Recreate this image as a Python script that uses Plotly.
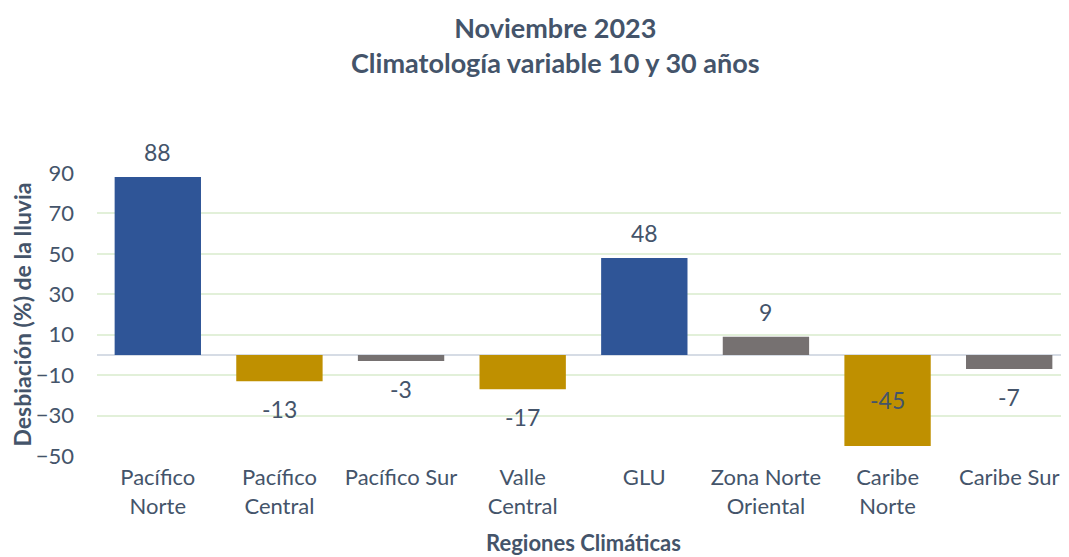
import plotly.graph_objects as go

regions = ["Pacífico<br>Norte", "Pacífico<br>Central", "Pacífico Sur", "Valle<br>Central",
           "GLU", "Zona Norte<br>Oriental", "Caribe<br>Norte", "Caribe Sur"]
values = [88, -13, -3, -17, 48, 9, -45, -7]
bar_colors = ["#2F5597", "#BF9000", "#767171", "#BF9000", "#2F5597", "#767171", "#BF9000", "#767171"]
y_ticks = [-50, -30, -10, 10, 30, 50, 70, 90]

text_col = "#44546A"
font_fam = "Lato, 'Open Sans', sans-serif"

fig = go.Figure(go.Bar(
    x=regions, y=values,
    marker=dict(color=bar_colors, line=dict(width=0)),
    width=0.71,
    hoverinfo="x+y",
))

# data labels derived from values
for r, v in zip(regions, values):
    if v < -40:
        fig.add_annotation(x=r, y=v / 2, text=str(v), showarrow=False,
                           font=dict(size=23, color=text_col, family=font_fam))
    elif v >= 0:
        fig.add_annotation(x=r, y=v, text=str(v), showarrow=False, yshift=25,
                           font=dict(size=23, color=text_col, family=font_fam))
    else:
        fig.add_annotation(x=r, y=v, text=str(v), showarrow=False, yshift=-28,
                           font=dict(size=23, color=text_col, family=font_fam))

fig.update_layout(
    width=1069, height=557,
    paper_bgcolor="white", plot_bgcolor="white",
    margin=dict(l=89, r=7, t=165, b=109, autoexpand=False),
    title=dict(
        text="<b>Noviembre 2023<br>Climatología variable 10 y 30 años</b>",
        x=0.512, xanchor="center", y=0.946, yanchor="top",
        font=dict(size=27, color=text_col, family=font_fam),
        automargin=False,
    ),
    font=dict(family=font_fam, color=text_col),
    showlegend=False,
)
fig.update_yaxes(
    range=[-50, 90], tickvals=y_ticks, automargin=False,
    showgrid=True, gridcolor="#E2F0D9", gridwidth=1.5,
    zeroline=True, zerolinecolor="#D6DCE5", zerolinewidth=2,
    tickfont=dict(size=22, color=text_col),
    ticklabelstandoff=22,
    title=dict(text="<b>Desbiación (%) de la lluvia</b>", font=dict(size=23, color=text_col), standoff=6),
)
fig.update_xaxes(
    showgrid=False, showline=False, automargin=False,
    tickfont=dict(size=22, color=text_col),
    ticklabelstandoff=6,
    title=dict(text="<b>Regiones Climáticas</b>", font=dict(size=22, color=text_col), standoff=18),
)

fig.write_html("out.html")
